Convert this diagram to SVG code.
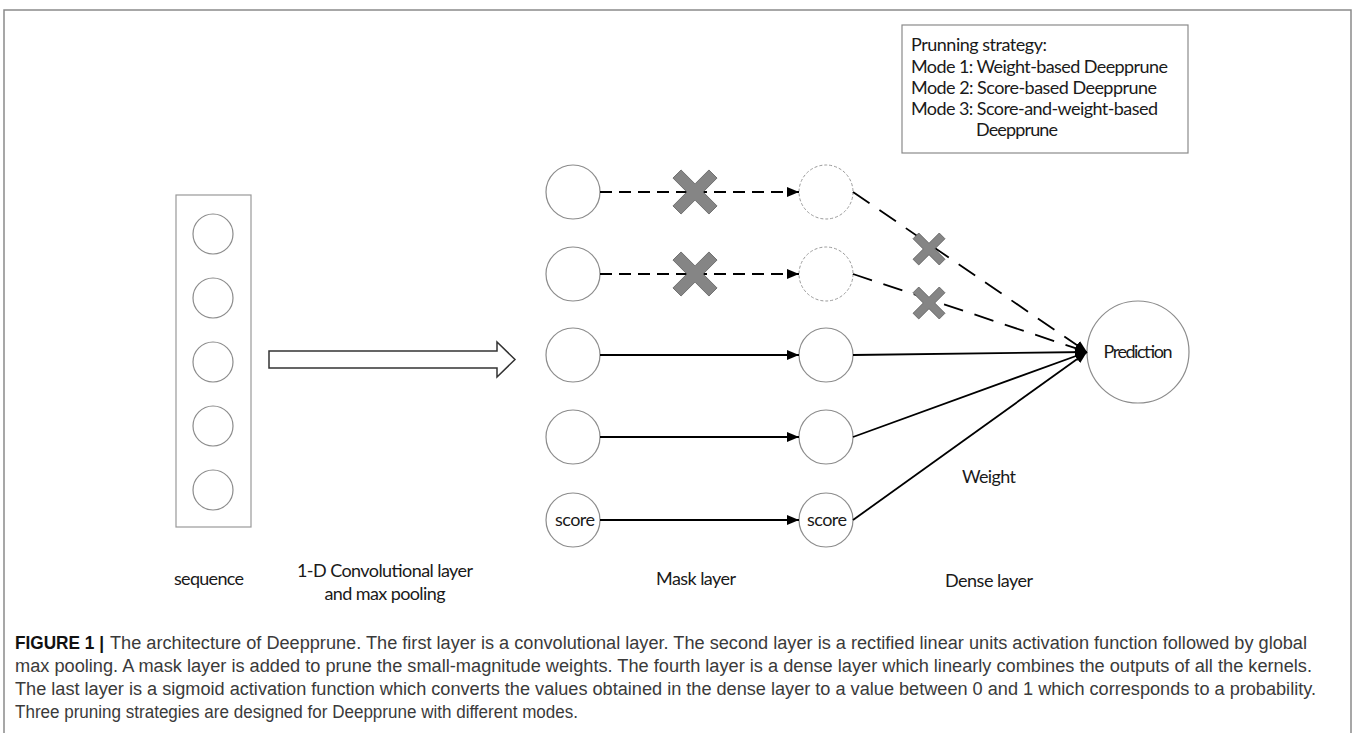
<svg xmlns="http://www.w3.org/2000/svg" xmlns:xlink="http://www.w3.org/1999/xlink" width="1355" height="733" viewBox="0 0 1355 733">
<style>
  .frame{fill:none;stroke:#8a8a8a;stroke-width:1.5}
  .node{fill:#fff;stroke:#8c8c8c;stroke-width:1.2}
  .dnode{fill:#fff;stroke:#9a9a9a;stroke-width:1;stroke-dasharray:3 2}
  .lbl{font-family:Lato,"Liberation Sans",sans-serif;font-size:18px;fill:#1a1a1a}
  .mid{text-anchor:middle}
  .edge{fill:none;stroke:#000;stroke-width:1.8}
  .dash1{stroke-dasharray:12 7}
  .dash2{stroke-dasharray:20 12}
  .xm{fill:#858585;stroke:#606060;stroke-width:1}
  .cap{font-family:"Liberation Sans Narrow","Liberation Sans",Arial,sans-serif;font-size:18px;fill:#3a3a3a}
  .capb{font-family:"Liberation Sans Narrow","Liberation Sans",Arial,sans-serif;font-size:18px;font-weight:bold;fill:#111}
</style>
<defs>
  <marker id="ah" markerUnits="userSpaceOnUse" markerWidth="12" markerHeight="10" refX="12" refY="5" orient="auto">
    <path d="M0,0 L12,5 L0,10 Z" fill="#000"/>
  </marker>
  <polygon id="xbig" points="0,-9.9 17,-26.9 26.9,-17 9.9,0 26.9,17 17,26.9 0,9.9 -17,26.9 -26.9,17 -9.9,0 -26.9,-17 -17,-26.9" class="xm" transform="scale(0.82)"/>
  <polygon id="xsmall" points="0,-7 12.5,-19.5 19.5,-12.5 7,0 19.5,12.5 12.5,19.5 0,7 -12.5,19.5 -19.5,12.5 -7,0 -19.5,-12.5 -12.5,-19.5" class="xm" transform="scale(0.82)"/>
</defs>

<g id="frame">
  <path class="frame" d="M4,733 L4,10 L1351,10 L1351,733"/>
</g>

<g id="strategy-box">
  <rect x="902" y="25" width="286" height="128" fill="#fff" stroke="#8a8a8a" stroke-width="1.2"/>
  <text class="lbl" x="911" y="51" textLength="136">Prunning strategy:</text>
  <text class="lbl" x="911" y="73" textLength="257">Mode 1: Weight-based Deepprune</text>
  <text class="lbl" x="911" y="94" textLength="246">Mode 2: Score-based Deepprune</text>
  <text class="lbl" x="911" y="115" textLength="247">Mode 3: Score-and-weight-based</text>
  <text class="lbl" x="976" y="136" textLength="82">Deepprune</text>
</g>

<g id="sequence">
  <rect x="176" y="195" width="75" height="332" fill="#fff" stroke="#999" stroke-width="1.2"/>
  <circle class="node" cx="213" cy="234" r="20"/>
  <circle class="node" cx="213" cy="298" r="20"/>
  <circle class="node" cx="213" cy="362" r="20"/>
  <circle class="node" cx="213" cy="426" r="20"/>
  <circle class="node" cx="213" cy="490" r="20"/>
</g>

<g id="conv-arrow">
  <polygon points="269,351 497,351 497,342 515,359.5 497,377 497,368 269,368" fill="#fff" stroke="#333" stroke-width="1.5"/>
</g>

<g id="mask-in">
  <circle class="node" cx="573" cy="192" r="27"/>
  <circle class="node" cx="573" cy="274" r="27"/>
  <circle class="node" cx="573" cy="355" r="27"/>
  <circle class="node" cx="573" cy="437" r="27"/>
  <circle class="node" cx="573" cy="520" r="27"/>
  <text class="lbl mid" x="575" y="526" textLength="40">score</text>
</g>

<g id="mask-out">
  <circle class="dnode" cx="826" cy="192" r="27"/>
  <circle class="dnode" cx="826" cy="274" r="27"/>
  <circle class="node" cx="826" cy="355" r="27"/>
  <circle class="node" cx="826" cy="437" r="27"/>
  <circle class="node" cx="826" cy="520" r="27"/>
  <text class="lbl mid" x="827" y="526" textLength="40">score</text>
</g>

<g id="prediction">
  <circle class="node" cx="1138" cy="352" r="51"/>
  <text class="lbl mid" x="1138" y="358" textLength="69">Prediction</text>
</g>

<g id="connectors">
  <line class="edge dash1" x1="600" y1="192" x2="799" y2="192" marker-end="url(#ah)"/>
  <line class="edge dash1" x1="600" y1="274" x2="799" y2="274" marker-end="url(#ah)"/>
  <line class="edge" x1="600" y1="355" x2="799" y2="355" marker-end="url(#ah)"/>
  <line class="edge" x1="600" y1="437" x2="799" y2="437" marker-end="url(#ah)"/>
  <line class="edge" x1="600" y1="520" x2="799" y2="520" marker-end="url(#ah)"/>
  <line class="edge dash2" x1="853" y1="192" x2="1087" y2="352" marker-end="url(#ah)"/>
  <line class="edge dash2" x1="853" y1="274" x2="1087" y2="352" marker-end="url(#ah)"/>
  <line class="edge" x1="853" y1="355" x2="1087" y2="352" marker-end="url(#ah)"/>
  <line class="edge" x1="853" y1="437" x2="1087" y2="352" marker-end="url(#ah)"/>
  <line class="edge" x1="853" y1="520" x2="1087" y2="352" marker-end="url(#ah)"/>
  <use href="#xbig" transform="translate(695,192)"/>
  <use href="#xbig" transform="translate(695,274)"/>
  <use href="#xsmall" transform="translate(929,249)"/>
  <use href="#xsmall" transform="translate(929,303)"/>
</g>

<g id="labels">
  <text class="lbl mid" x="209" y="585" textLength="70">sequence</text>
  <text class="lbl mid" x="385" y="577" textLength="176">1-D Convolutional layer</text>
  <text class="lbl mid" x="385" y="600" textLength="121">and max pooling</text>
  <text class="lbl mid" x="696" y="585" textLength="80">Mask layer</text>
  <text class="lbl mid" x="989" y="483" textLength="54">Weight</text>
  <text class="lbl mid" x="989" y="587" textLength="88">Dense layer</text>
</g>

<g id="caption">
  <text class="capb" x="15" y="649" textLength="89" lengthAdjust="spacingAndGlyphs">FIGURE 1 |</text>
  <text class="cap" x="110" y="649" textLength="1197" lengthAdjust="spacingAndGlyphs">The architecture of Deepprune. The first layer is a convolutional layer. The second layer is a rectified linear units activation function followed by global</text>
  <text class="cap" x="15" y="672" textLength="1297" lengthAdjust="spacingAndGlyphs">max pooling. A mask layer is added to prune the small-magnitude weights. The fourth layer is a dense layer which linearly combines the outputs of all the kernels.</text>
  <text class="cap" x="15" y="695" textLength="1301" lengthAdjust="spacingAndGlyphs">The last layer is a sigmoid activation function which converts the values obtained in the dense layer to a value between 0 and 1 which corresponds to a probability.</text>
  <text class="cap" x="15" y="718" textLength="563" lengthAdjust="spacingAndGlyphs">Three pruning strategies are designed for Deepprune with different modes.</text>
</g>
</svg>
